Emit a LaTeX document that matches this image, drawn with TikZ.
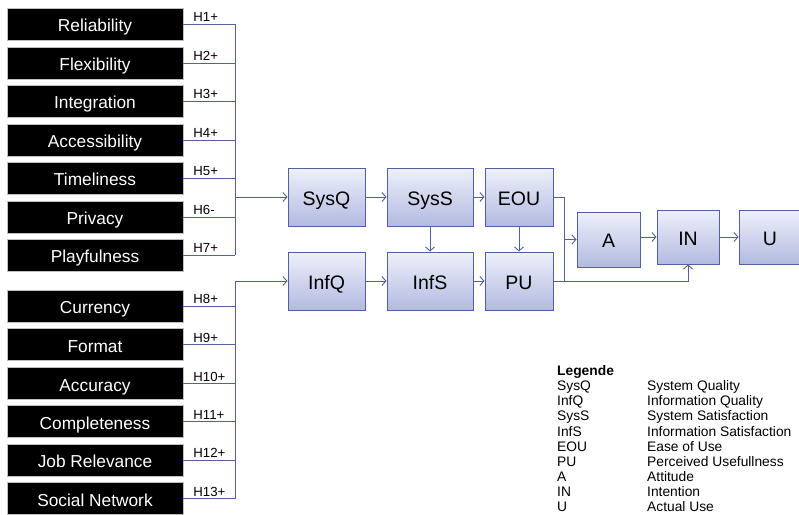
\documentclass[tikz,border=0pt]{standalone}
\usepackage{fontspec}
\setmainfont{Liberation Sans}
\usetikzlibrary{arrows.meta}
\definecolor{lc}{RGB}{82,96,156}
\definecolor{ftop}{RGB}{238,240,251}
\definecolor{fbot}{RGB}{178,186,224}
\begin{document}
\begin{tikzpicture}[x=1pt,y=-1pt,
  blk/.style={fill=black,draw=gray!50,line width=0.4pt,text=white,minimum width=176pt,minimum height=32pt,inner sep=0pt,text height=15pt,text depth=0pt,font=\fontsize{17.3}{19}\selectfont},
  mbox/.style={draw=lc,line width=1pt,top color=ftop,bottom color=fbot,inner sep=0pt,minimum height=58pt,text height=16pt,text depth=0pt,font=\fontsize{19.5}{21}\selectfont},
  con/.style={draw=lc,line width=0.9pt},
  arr/.style={con,-{Straight Barb[length=4pt,width=9pt]}},
  hl/.style={anchor=south west,inner sep=0pt,font=\fontsize{13.2}{14}\selectfont},
  leg/.style={anchor=west,inner sep=0pt,font=\fontsize{13.8}{15}\selectfont}]
\useasboundingbox (0,0) rectangle (799,514);
% middle boxes
\node[mbox,minimum width=77pt] (SysQ) at (326.5,197) {SysQ};
\node[mbox,minimum width=86pt] (SysS) at (430,197) {SysS};
\node[mbox,minimum width=68pt] (EOU) at (519,197) {EOU};
\node[mbox,minimum width=77pt] (InfQ) at (326.5,281) {InfQ};
\node[mbox,minimum width=86pt] (InfS) at (430,281) {InfS};
\node[mbox,minimum width=68pt] (PU) at (519,281) {PU};
\node[mbox,minimum width=63pt,minimum height=55pt] (A) at (608.5,239.5) {A};
\node[mbox,minimum width=62pt,minimum height=54pt] (IN) at (688,237) {IN};
\node[mbox,minimum width=62pt,minimum height=54pt] (U) at (770,237) {U};
% buses
\coordinate (busA) at (235,0);
\coordinate (j) at (564,0);
\foreach \n/\t/\h/\y in {r1/Reliability/H1+/24, r2/Flexibility/H2+/63, r3/Integration/H3+/101, r4/Accessibility/H4+/140, r5/Timeliness/H5+/178, r6/Privacy/H6-/217, r7/Playfulness/H7+/255, r8/Currency/H8+/306, r9/Format/H9+/344.5, r10/Accuracy/H10+/383.5, r11/Completeness/H11+/421.5, r12/Job Relevance/H12+/460, r13/Social Network/H13+/498.5}{
  \node[blk] (\n) at (95,\y) {\t};
  \draw[con] (\n.east) -- (\n.east -| busA);
  \node[hl] at ([xshift=10pt,yshift=2pt]\n.east) {\h};
}
\draw[con] (r1.east -| busA) -- (r7.east -| busA);
\draw[arr] (busA |- SysQ.west) -- (SysQ.west);
\draw[arr] (r13.east -| busA) -- (busA |- InfQ.west) -- (InfQ.west);
% internal arrows
\draw[arr] (SysQ) -- (SysS);
\draw[arr] (SysS) -- (EOU);
\draw[arr] (InfQ) -- (InfS);
\draw[arr] (InfS) -- (PU);
\draw[arr] (SysS) -- (InfS);
\draw[arr] (EOU) -- (PU);
\draw[con] (EOU.east) -| (j |- PU.east);
\draw[arr] (j |- A.west) -- (A.west);
\draw[arr] (PU.east) -| (IN.south);
\draw[arr] (A.east |- IN.west) -- (IN.west);
\draw[arr] (IN) -- (U);
% legend
\node[leg,font=\fontsize{13.8}{15}\selectfont\bfseries] (lg) at (557,372) {Legende};
\foreach \k/\v/\y in {SysQ/System Quality/387, InfQ/Information Quality/402, SysS/System Satisfaction/417, InfS/Information Satisfaction/432, EOU/Ease of Use/447, PU/Perceived Usefullness/462, A/Attitude/477, IN/Intention/492, U/Actual Use/507}{
  \node[leg] at (557,\y) {\k};
  \node[leg] at (647,\y) {\v};
}
\end{tikzpicture}
\end{document}
